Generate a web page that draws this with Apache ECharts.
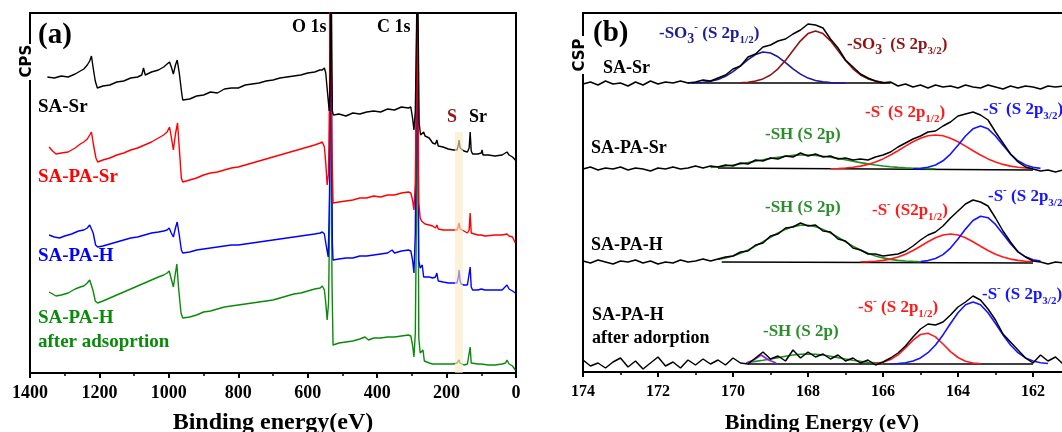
<!DOCTYPE html>
<html><head><meta charset="utf-8">
<script src="https://cdn.jsdelivr.net/npm/echarts/dist/echarts.min.js"></script>
<style>html,body{margin:0;padding:0;background:#fff}#c{width:1062px;height:432px}</style>
</head><body><div id="c"></div>
<script>
// ---------- Panel (a): survey spectra [binding energy, intensity] ----------
const surveyBlack = [[1350,296],[1330,295],[1310,297],[1290,296],[1270,299],[1255,302],[1245,304],[1235,308],[1228,312],[1223,317],[1218,305],[1212,292],[1206,285],[1190,287],[1170,288],[1150,291],[1130,292],[1110,295],[1090,296],[1078,298],[1073,305],[1068,298],[1050,301],[1030,303],[1015,306],[1005,309],[998,311],[992,305],[987,299],[981,308],[976,313],[970,300],[963,280],[960,273],[940,274],[920,277],[900,278],[880,281],[860,280],[840,284],[820,285],[800,285],[780,288],[760,289],[740,290],[720,292],[700,293],[680,295],[660,296],[640,297],[620,298],[600,300],[580,301],[565,303],[558,303],[552,305],[548,300],[545,288],[541,273],[538,262],[535,300],[533,420],[531,420],[529,262],[526,258],[510,259],[490,257],[470,260],[450,259],[430,261],[410,262],[390,261],[370,264],[350,263],[330,266],[310,265],[303,266],[298,255],[294,243],[290,262],[287,330],[284,420],[282,420],[279,250],[275,238],[270,236],[266,241],[262,237],[250,235],[240,230],[232,229],[228,233],[224,227],[210,226],[195,224],[180,223],[170,223],[166,228],[164,233],[161,225],[158,224],[150,222],[140,221],[135,225],[132,241],[129,222],[125,219],[110,219],[100,220],[98,223],[95,218],[80,218],[60,217],[40,218],[26,221],[20,218],[10,216],[2,213]];
const surveyRed = [[1345,226],[1335,222],[1325,219],[1310,220],[1290,221],[1270,225],[1255,229],[1245,231],[1235,234],[1228,238],[1223,241],[1217,228],[1210,215],[1205,211],[1190,213],[1170,215],[1150,218],[1130,220],[1110,223],[1090,225],[1070,228],[1050,231],[1030,235],[1015,238],[1005,241],[998,246],[992,234],[987,223],[981,239],[975,250],[970,225],[964,195],[960,191],[940,193],[920,195],[900,198],[880,200],[860,201],[840,203],[820,205],[800,206],[780,208],[760,210],[740,212],[720,214],[700,216],[680,218],[660,220],[640,222],[620,224],[600,226],[580,228],[564,230],[558,231],[552,226],[548,210],[544,188],[540,200],[537,280],[535,420],[533,420],[530,220],[527,170],[510,171],[490,172],[470,173],[450,175],[430,175],[410,177],[390,176],[370,178],[350,178],[330,180],[310,181],[303,180],[298,173],[294,163],[290,190],[287,280],[285,420],[283,420],[280,170],[276,155],[272,152],[268,153],[262,149],[250,148],[240,147],[232,145],[228,148],[224,144],[210,143],[195,143],[180,143],[170,143],[166,147],[164,150],[161,144],[158,143],[150,142],[140,140],[135,143],[132,160],[129,140],[125,138],[110,138],[100,138],[90,137],[60,138],[40,138],[26,139],[20,137],[10,136],[2,130]];
const surveyBlue = [[1345,138],[1330,136],[1315,135],[1300,137],[1280,139],[1260,142],[1245,143],[1235,145],[1228,148],[1225,150],[1218,140],[1211,128],[1205,126],[1190,127],[1170,129],[1150,131],[1130,133],[1110,135],[1090,136],[1070,138],[1050,140],[1030,141],[1015,142],[1005,143],[999,145],[993,140],[987,136],[981,145],[976,151],[970,138],[964,123],[960,120],[940,121],[920,123],[900,124],[880,125],[860,126],[840,127],[820,128],[800,128],[780,129],[760,130],[740,131],[720,132],[700,133],[680,134],[660,135],[640,136],[620,137],[600,138],[580,139],[564,140],[558,141],[552,139],[548,130],[541,116],[537,180],[534,420],[531,420],[529,130],[527,113],[510,114],[490,115],[470,115],[450,117],[430,117],[410,118],[390,119],[370,120],[357,123],[350,120],[330,122],[310,123],[303,122],[298,113],[294,100],[290,140],[287,280],[285,420],[283,420],[280,112],[276,105],[272,107],[270,108],[266,96],[262,95],[250,96],[240,95],[232,96],[228,100],[224,92],[210,91],[195,90],[180,90],[170,90],[166,96],[164,103],[161,92],[158,89],[150,88],[140,88],[135,89],[132,106],[129,86],[125,83],[110,83],[100,84],[90,83],[60,83],[40,83],[26,88],[20,84],[10,82],[2,80]];
const surveyGreen = [[1345,81],[1335,79],[1325,77],[1310,78],[1290,80],[1270,84],[1255,86],[1245,87],[1235,90],[1228,93],[1224,95],[1218,82],[1212,72],[1205,70],[1190,72],[1170,75],[1150,78],[1130,81],[1110,84],[1090,87],[1070,90],[1050,93],[1030,96],[1015,98],[1005,100],[999,102],[993,94],[987,86],[981,100],[977,109],[972,85],[965,60],[960,55],[940,56],[920,58],[900,61],[880,62],[860,64],[840,66],[820,67],[800,68],[780,69],[760,70],[740,71],[720,72],[700,73],[680,75],[660,77],[640,79],[620,80],[600,82],[580,84],[564,85],[558,87],[552,83],[548,70],[544,53],[540,70],[537,150],[535,420],[533,420],[530,90],[527,28],[510,30],[490,31],[470,32],[450,34],[435,36],[425,33],[410,35],[390,35],[370,36],[350,36],[330,37],[310,38],[303,37],[298,28],[294,16],[290,40],[287,150],[285,420],[283,420],[280,35],[276,20],[272,18],[268,23],[264,12],[250,10],[240,9],[228,9],[210,9],[195,9],[180,9],[170,10],[166,11],[164,13],[161,10],[158,9],[150,8],[140,9],[135,11],[132,26],[129,10],[125,9],[110,9],[100,9],[98,11],[95,8],[80,8],[60,8],[40,9],[30,10],[26,13],[20,9],[10,7],[2,3]];
const sBand = [176, 153, 241];

// ---------- Panel (b): S 2p high-resolution spectra ----------
const bStart = 174.0, bStep = 0.2;
const rawSASr = [288,290,287,291,288,289,286,290,287,291, 288,290,289,291,289,290,292,291,294,297, 303,306,315,318,325,327,331,333,338,342, 348,347,344,333,324,312,305,298,294,291, 289,290,286,288,285,287,284,287,285,286, 284,287,285,284,287,285,283,286,284,286, 285,283,286,285,286];
const rawSAPASr = [203,205,202,204,203,205,202,204,203,201, 204,203,205,203,204,206,204,206,205,207, 206,209,208,212,211,214,213,216,215,219, 216,218,215,216,213,214,212,213,212,215, 217,220,225,229,233,236,240,241,246,250, 256,258,260,257,252,240,229,218,210,205, 203,201,202,200,202];
const rawSAPAH = [111,109,112,110,108,111,110,112,109,111, 108,110,109,112,110,111,113,111,113,115, 116,120,121,127,129,136,138,144,145,149, 146,147,141,140,133,131,124,122,118,118, 116,117,118,121,126,132,137,140,146,154, 161,168,172,170,166,154,141,130,120,115, 111,110,108,110,109];
const rawSAPAHads = [12,6,9,4,10,14,5,11,3,9, 15,6,10,4,12,7,13,8,12,7, 14,9,8,14,20,13,16,11,22,14, 20,15,18,13,17,11,14,9,12,7, 10,14,19,26,35,43,48,47,50,57, 65,70,76,72,63,52,38,30,22,14, 9,17,11,15,8];

// fitted components (start energy, values every 0.2 eV toward lower BE)
const so3HalfStart = 171.2;
const so3Half = [289.1,289.3,289.7,290.7,292.5,295.7,300.4,306.2,312.4,317.4,320,319,315.2,309.4,303.2,297.9,293.9,291.5,290.1,289.4,289.1,289];
const so3ThreeStart = 169.8;
const so3Three = [289.3,289.8,290.9,293.1,297,303.2,311.6,321.6,331.2,338.4,341,338.4,331.2,321.6,311.6,303.2,297,293.1,290.9,289.8,289.3];
const sh2Start = 170.6;
const sh2 = [204.6,205.2,206,207,208.1,209.4,210.8,212.2,213.6,214.8,215.8,216.6,217,217,216.6,215.8,214.8,213.6,212.2,210.8,209.4,208.1,207,206,205.2,204.6,204.1,203.8,203.5,203.3,203.2];
const sHalf2Start = 167.4;
const sHalf2 = [203.3,203.5,204,204.7,205.9,207.6,210,213.1,217,221.3,225.9,230.2,233.8,236.2,237,236.2,233.8,230.2,225.9,221.3,217,213.1,210,207.6,205.9,204.7,204,203.5];
const sThree2Start = 165.2;
const sThree2 = [203.2,203.6,204.7,207,211.2,217.9,226.7,236,243.2,246,243.2,236,226.7,217.9,211.2,207,204.7,203.6];
const sh3Start = 170.4;
const sh3 = [112.6,114.1,116.1,118.7,122,125.9,130.2,134.7,139,142.6,145.4,146.8,146.8,145.4,142.6,139,134.7,130.2,125.9,122,118.7,116.1,114.1,112.6,111.6,111,110.6,110.3];
const sHalf3Start = 166.6;
const sHalf3 = [110.2,110.4,110.8,111.6,112.9,114.9,117.8,121.5,125.8,130.3,134.3,137,138,137,134.3,130.3,125.8,121.5,117.8,114.9,112.9,111.6,110.8,110.4];
const sThree3Start = 165.0;
const sThree3 = [110.5,111.4,113.5,117.4,123.9,132.9,142.9,151.5,155.8,154.3,147.6,137.9,128.2,120.4,115.2,112.3,110.9];
const sh4Start = 169.6;
const sh4 = [9.7,10.6,11.7,13,14.4,15.8,17,17.7,18,17.7,17,15.8,14.4,13,11.7,10.6,9.7,9.1,8.6];
const sHalf4Start = 166.2;
const sHalf4 = [8.6,9.8,12.4,17.2,24.1,31.8,37.5,38.8,35.1,28,20.4,14.5,10.8,9,8.3];
const sThree4Start = 165.8;
const sThree4 = [8.2,8.5,9.3,11,14.1,19.3,27,37.1,48.5,59.3,67.2,70,67.2,59.3,48.5,37.1,27,19.3,14.1,11,9.3,8.5];
const purple4 = [[169.65,9],[169.45,12],[169.25,17],[169.05,12],[168.85,9]];
const baselines = [[[171.1,289],[165.8,289]], [[170.4,204],[162.0,202]], [[170.3,110],[162.0,109]], [[169.6,8],[162.0,8]]];

// ---------- helpers ----------
const toPairs = (start, vals) => vals.map((v, i) => [+(start - i * bStep).toFixed(2), v]);
const SERIF = '"Liberation Serif","Times New Roman",serif';
const chart = echarts.init(document.getElementById('c'), null, {renderer: 'canvas'});

function aLine(data, color, z) {
  return {type: 'line', xAxisIndex: 0, yAxisIndex: 0, data, symbol: 'none', z: z,
    lineStyle: {color, width: 1.4}, animation: false};
}
function bLine(start, vals, color, w, z) {
  return {type: 'line', xAxisIndex: 1, yAxisIndex: 1, data: toPairs(start, vals), symbol: 'none', z: z || 3,
    smooth: false, lineStyle: {color, width: w || 1.6}, animation: false};
}

const series = [
  aLine(surveyGreen, '#0a8a0a', 2),
  aLine(surveyBlue, '#0000ff', 2),
  aLine(surveyRed, '#ff0000', 2),
  aLine(surveyBlack, '#000000', 2),
  {type: 'line', xAxisIndex: 0, yAxisIndex: 0, data: [], symbol: 'none', z: 10,
   markArea: {silent: true, z: 10, itemStyle: {color: 'rgba(249,234,196,0.62)'},
     data: [[{xAxis: sBand[0], yAxis: sBand[2]}, {xAxis: sBand[1], yAxis: 0}]]}},
];
baselines.forEach(b => series.push({type: 'line', xAxisIndex: 1, yAxisIndex: 1, data: b, symbol: 'none', z: 2,
  lineStyle: {color: '#000', width: 1.3}, animation: false}));
series.push(bLine(so3HalfStart, so3Half, '#1b1b9c'));
series.push(bLine(so3ThreeStart, so3Three, '#8e1414'));
series.push(bLine(sh2Start, sh2, '#1f8f1f'));
series.push(bLine(sHalf2Start, sHalf2, '#ff1a1a'));
series.push(bLine(sThree2Start, sThree2, '#1414ff'));
series.push(bLine(sh3Start, sh3, '#1f8f1f'));
series.push(bLine(sHalf3Start, sHalf3, '#ff1a1a'));
series.push(bLine(sThree3Start, sThree3, '#1414ff'));
series.push(bLine(sh4Start, sh4, '#1f8f1f'));
series.push(bLine(sHalf4Start, sHalf4, '#ff1a1a'));
series.push(bLine(sThree4Start, sThree4, '#1414ff'));
series.push({type: 'line', xAxisIndex: 1, yAxisIndex: 1, data: purple4, symbol: 'none', z: 3,
  lineStyle: {color: '#8a2be2', width: 1.8}, animation: false});
[rawSASr, rawSAPASr, rawSAPAH, rawSAPAHads].forEach(r => series.push(bLine(bStart, r, '#000', 1.5, 4)));

function txt(x, y, text, size, color, extra) {
  return Object.assign({type: 'text', x, y, z: 100, style: {text, fill: color || '#000',
    font: 'bold ' + size + 'px ' + SERIF, verticalAlign: 'middle', align: 'left'}}, extra || {});
}
function rich(x, y, text, color, size) {
  const s = size || 17;
  const base = {fontFamily: SERIF, fontWeight: 'bold', fill: color, lineHeight: 24};
  return {type: 'text', x, y, z: 100, style: {text, fill: color, fontFamily: SERIF, fontWeight: 'bold', fontSize: s,
    lineHeight: 24, verticalAlign: 'middle', align: 'left',
    rich: {
      m: Object.assign({fontSize: s, verticalAlign: 'middle'}, base),
      s: Object.assign({fontSize: 11, verticalAlign: 'bottom'}, base),
      t: Object.assign({fontSize: 14, verticalAlign: 'bottom'}, base),
      u: Object.assign({fontSize: 11, verticalAlign: 'top'}, base)
    }}};
}

const graphics = [
  {type: 'rect', x: 21, y: 44, z: 99, shape: {width: 14, height: 36}, style: {fill: '#fff'}},
  {type: 'text', x: 27, y: 61, z: 100, rotation: Math.PI / 2,
   style: {text: 'CPS', font: 'bold 15px "DejaVu Sans",sans-serif', fill: '#000', align: 'center', verticalAlign: 'middle'}},
  {type: 'rect', x: 574, y: 36, z: 99, shape: {width: 14, height: 38}, style: {fill: '#fff'}},
  {type: 'text', x: 580, y: 55, z: 100, rotation: Math.PI / 2,
   style: {text: 'CSP', font: 'bold 15px "DejaVu Sans",sans-serif', fill: '#000', align: 'center', verticalAlign: 'middle'}},
  txt(38, 36, '(a)', 29),
  txt(593, 34, '(b)', 29),
  txt(292, 27, 'O 1s', 18),
  txt(377, 27, 'C 1s', 18),
  txt(447, 117, 'S', 18, '#8b1a1a'),
  txt(469, 117, 'Sr', 18),
  txt(38, 107, 'SA-Sr', 19, '#000'),
  txt(38, 177, 'SA-PA-Sr', 19, '#ff0000'),
  txt(38, 256, 'SA-PA-H', 19, '#0000ff'),
  txt(38, 318, 'SA-PA-H', 19, '#0a8a0a'),
  txt(38, 342, 'after adsoprtion', 19, '#0a8a0a'),
  txt(603, 68, 'SA-Sr', 18),
  txt(591, 148, 'SA-PA-Sr', 18),
  txt(591, 245, 'SA-PA-H', 18),
  txt(592, 315, 'SA-PA-H', 18),
  txt(592, 338, 'after adorption', 18),
  rich(659, 34, '-SO{t|3}{u|-} (S 2p{s|1/2})', '#1b1b9c'),
  rich(847, 45, '-SO{t|3}{u|-} (S 2p{s|3/2})', '#8e1414'),
  rich(865, 113, '-S{u|-} (S 2p{s|1/2})', '#ff1a1a'),
  rich(983, 110, '-S{u|-} (S 2p{s|3/2})', '#1414ff'),
  txt(765, 135, '-SH (S 2p)', 17, '#2a8f2a'),
  txt(765, 208, '-SH (S 2p)', 17, '#2a8f2a'),
  rich(872, 211, '-S{u|-} (S2p{s|1/2})', '#ff1a1a'),
  rich(988, 197, '-S{u|-} (S 2p{s|3/2})', '#1414ff'),
  txt(763, 332, '-SH (S 2p)', 17, '#2a8f2a'),
  rich(858, 308, '-S{u|-} (S 2p{s|1/2})', '#ff1a1a'),
  rich(982, 295, '-S{u|-} (S 2p{s|3/2})', '#1414ff'),
  {type: 'text', x: 273, y: 423, z: 100, style: {text: 'Binding energy(eV)', font: 'bold 24px ' + SERIF, fill: '#000', align: 'center', verticalAlign: 'middle'}},
  {type: 'text', x: 822, y: 423, z: 100, style: {text: 'Binding Energy (eV)', font: 'bold 22px ' + SERIF, fill: '#000', align: 'center', verticalAlign: 'middle'}}
];

const axisCommon = {
  axisLine: {show: true, onZero: false, lineStyle: {color: '#000', width: 2}},
  axisTick: {show: true, inside: false, length: 5, lineStyle: {color: '#000', width: 2}},
  minorTick: {show: true, splitNumber: 2, length: 3, lineStyle: {color: '#000', width: 1.5}},
  splitLine: {show: false}
};
const plainNum = v => String(v);

chart.setOption({
  animation: false,
  backgroundColor: '#fff',
  grid: [
    {left: 30, top: 13, width: 486, height: 360, show: true, borderColor: '#000', borderWidth: 2, containLabel: false, outerBoundsMode: 'none'},
    {left: 583, top: 13, width: 525, height: 359, show: true, borderColor: '#000', borderWidth: 2, containLabel: false, outerBoundsMode: 'none'}
  ],
  xAxis: [
    Object.assign({type: 'value', gridIndex: 0, inverse: true, min: 0, max: 1400, interval: 200,
      axisLabel: {color: '#000', fontFamily: SERIF, fontWeight: 'bold', fontSize: 18, margin: 11, formatter: plainNum, hideOverlap: false}}, axisCommon),
    Object.assign({type: 'value', gridIndex: 1, inverse: true, min: 160, max: 174, interval: 2,
      axisLabel: {color: '#000', fontFamily: SERIF, fontWeight: 'bold', fontSize: 16, margin: 12, formatter: plainNum, hideOverlap: false}}, axisCommon)
  ],
  yAxis: [
    {type: 'value', gridIndex: 0, min: 0, max: 360, axisLabel: {show: false}, axisTick: {show: false},
     splitLine: {show: false}, axisLine: {show: true, lineStyle: {color: '#000', width: 2}}},
    {type: 'value', gridIndex: 1, min: 0, max: 359, axisLabel: {show: false}, axisTick: {show: false},
     splitLine: {show: false}, axisLine: {show: true, lineStyle: {color: '#000', width: 2}}}
  ],
  graphic: graphics,
  series
});
</script></body></html>
